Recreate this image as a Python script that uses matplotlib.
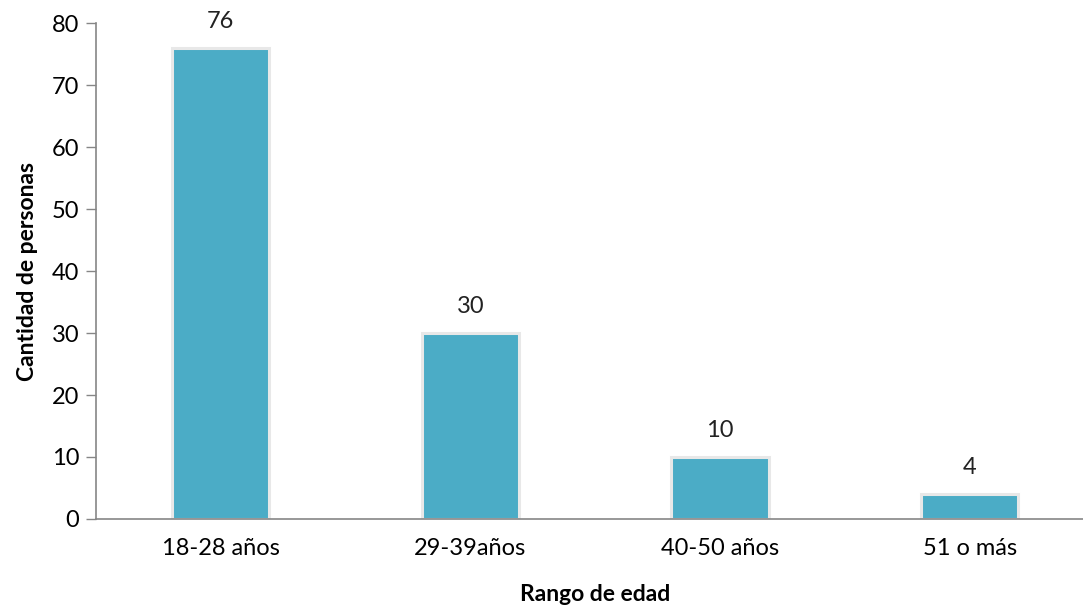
import matplotlib
matplotlib.use("Agg")
import matplotlib.pyplot as plt

categories = ["18-28 años", "29-39años", "40-50 años", "51 o más"]
counts = [76, 30, 10, 4]

plt.rcParams["font.family"] = ["Lato", "DejaVu Sans"]

fig = plt.figure(figsize=(10.83, 6.07), dpi=100)
ax = fig.add_axes([0.0886, 0.145, 0.922, 0.817])

x = list(range(len(categories)))
bars = ax.bar(x, counts, width=0.39, color="#4BACC6",
              edgecolor="#e8e8e8", linewidth=2.2)

# value labels above each bar
for xi, v in zip(x, counts):
    ax.text(xi, v + 2.6, str(v), ha="center", va="bottom", fontsize=17, color="#222222")

ax.set_xlim(-0.5, 3.5)
ax.set_ylim(0, 80)
ax.set_yticks(range(0, 81, 10))
ax.set_xticks(x)
ax.set_xticklabels(categories)
ax.tick_params(axis="y", length=7, width=1, color="#868686", labelsize=17, pad=5)
ax.tick_params(axis="x", length=0, labelsize=17, pad=14)

for s in ["top", "right"]:
    ax.spines[s].set_visible(False)
for s in ["left", "bottom"]:
    ax.spines[s].set_color("#868686")
    ax.spines[s].set_linewidth(1.2)

ax.set_ylabel("Cantidad de personas", fontsize=16.5, fontweight="bold", labelpad=10)
ax.set_xlabel("Rango de edad", fontsize=16.5, fontweight="bold", labelpad=18)

fig.savefig("out.png", dpi=100)
